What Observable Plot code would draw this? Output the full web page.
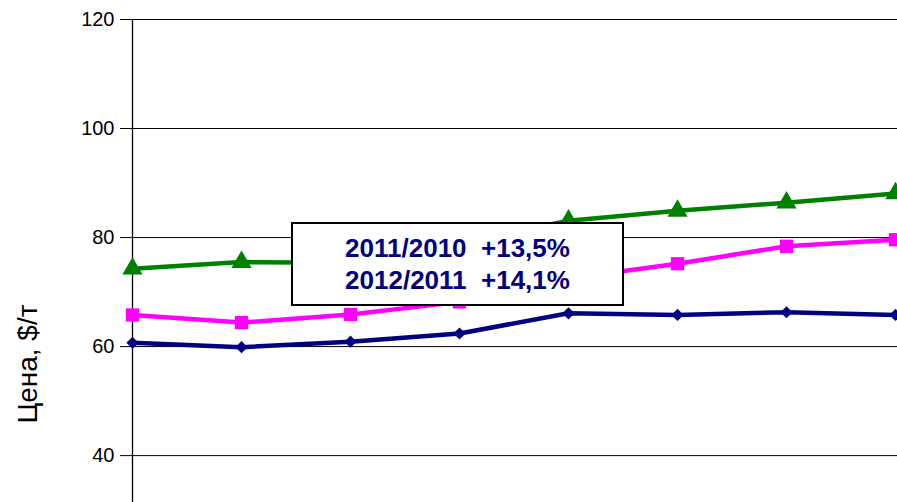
<!DOCTYPE html>
<html>
<head>
<meta charset="utf-8">
<script src="https://cdn.jsdelivr.net/npm/d3@7"></script>
<script src="https://cdn.jsdelivr.net/npm/@observablehq/plot@0.6"></script>
<style>
  html, body { margin: 0; padding: 0; background: #fff; }
  #wrap { position: relative; width: 897px; height: 502px; overflow: hidden; font-family: "Liberation Sans", Arial, sans-serif; }
  #wrap svg text { font-size: 20px; }
  #ylabel { position: absolute; left: 28px; top: 364px; transform: translate(-50%, -50%) rotate(-90deg); font-size: 28px; white-space: nowrap; color: #000; }
  #note { position: absolute; left: 291px; top: 222px; width: 329px; height: 80px; border: 2px solid #000; background: #fff;
          display: flex; flex-direction: column; justify-content: center; align-items: center;
          font-weight: bold; font-size: 26px; line-height: 32px; color: #000080; white-space: pre; }
</style>
</head>
<body>
<div id="wrap"></div>
<script>
const periods = ["1", "2", "3", "4", "5", "6", "7", "8"];
const blueValues = [60.7, 59.9, 60.9, 62.4, 66.1, 65.8, 66.3, 65.8];
const magentaValues = [65.8, 64.4, 65.9, 68.2, 72.5, 75.2, 78.4, 79.6];
const greenValues = [74.3, 75.5, 75.4, 79.0, 83.1, 84.9, 86.4, 88.1];
const yTicks = [40, 60, 80, 100, 120];
const yLabel = "Цена, $/т";
const noteLines = ["2011/2010  +13,5%", "2012/2011  +14,1%"];

const series = [
  {name: "blue", values: blueValues, color: "#000080", symbol: "diamond2", r: 5.5},
  {name: "magenta", values: magentaValues, color: "#FF00FF", symbol: "square", r: 7.5},
  {name: "green", values: greenValues, color: "#008000", symbol: "triangle", r: 7.5}
];
const rows = series.flatMap(s => s.values.map((v, i) => ({period: periods[i], value: v, series: s.name})));

const marks = [
  Plot.ruleY(yTicks, {stroke: "#000", strokeWidth: 1, strokeOpacity: 1}),
  Plot.axisY({ticks: yTicks, tickSize: 10, tickPadding: 6, fontSize: 20, label: null, stroke: "#000", strokeOpacity: 1}),
  Plot.ruleX([periods[0]], {stroke: "#000", strokeWidth: 1.3})
];
for (const s of series) {
  const d = rows.filter(r => r.series === s.name);
  marks.push(Plot.line(d, {x: "period", y: "value", stroke: s.color, strokeWidth: 4.5}));
  marks.push(Plot.dot(d, {x: "period", y: "value", fill: s.color, stroke: null, symbol: s.symbol, r: s.r}));
}

const chart = Plot.plot({
  width: 897,
  height: 502,
  marginLeft: 130,
  marginRight: 0,
  marginTop: 19,
  marginBottom: 0,
  style: {background: "transparent", fontFamily: "Liberation Sans, Arial, sans-serif", fontSize: "20px", color: "#000", overflow: "visible"},
  x: {type: "point", domain: periods, padding: 0, axis: null},
  y: {domain: [31.4, 120], axis: null},
  marks
});
const wrap = document.getElementById("wrap");
wrap.appendChild(chart);

const lab = document.createElement("div");
lab.id = "ylabel";
lab.textContent = yLabel;
wrap.appendChild(lab);

const note = document.createElement("div");
note.id = "note";
note.innerHTML = noteLines.map(t => `<div>${t}</div>`).join("");
wrap.appendChild(note);
</script>
</body>
</html>
